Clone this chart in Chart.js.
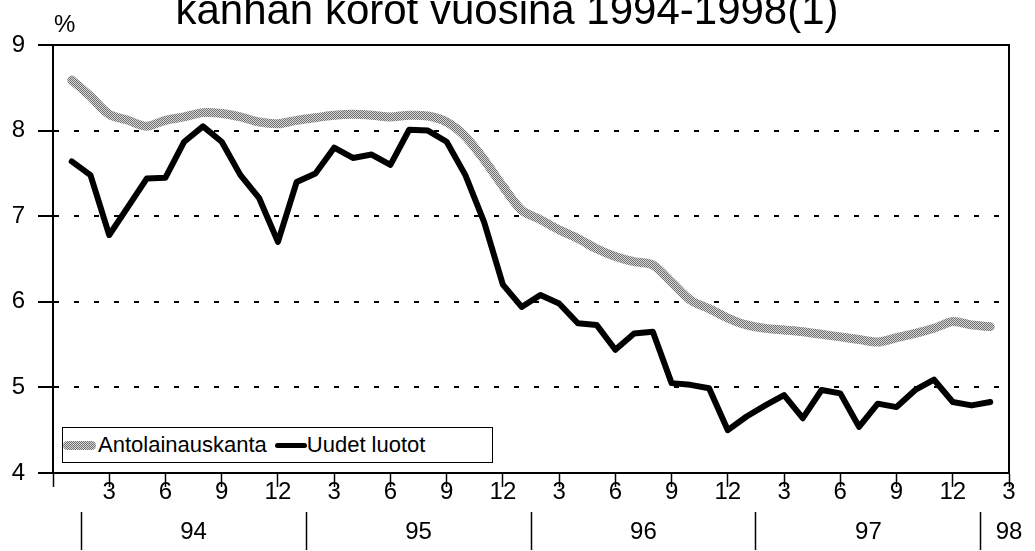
<!DOCTYPE html>
<html lang="fi">
<head>
<meta charset="utf-8">
<title>Kanhan korot vuosina 1994-1998</title>
<script src="https://cdn.jsdelivr.net/npm/chart.js@4.4.1/dist/chart.umd.min.js"></script>
<style>
  html, body { margin: 0; padding: 0; background: #fff; }
  body {
    width: 1035px; height: 551px; overflow: hidden; position: relative;
    font-family: 'Liberation Sans', Arial, sans-serif; color: #000;
  }
  #chart { position: absolute; left: 0; top: 0; }
  .title {
    position: absolute; left: 0; top: -11px; width: 1014px;
    text-align: center; font-size: 42px; line-height: 1; white-space: nowrap;
  }
  .unit { position: absolute; left: 54px; top: 12px; font-size: 24px; line-height: 1; }
  .legend {
    position: absolute; left: 62px; top: 427px; width: 431px; height: 36px;
    box-sizing: border-box; border: 1.5px solid #000; background: #fff;
    display: flex; align-items: center; font-size: 22px; line-height: 1; white-space: nowrap;
  }
  .legend .swatch { display: inline-block; border-radius: 5px; }
</style>
</head>
<body>
<canvas id="chart" width="1035" height="551"></canvas>
<div class="title">kanhan korot vuosina 1994-1998(1)</div>
<div class="unit">%</div>
<div class="legend" id="legend"></div>

<script>
// kuukausittaiset havainnot 1/1994 - 2/1998 (x = kuukausia joulukuusta 1993)
const antolainauskanta = [
    8.59, 8.40, 8.19, 8.12, 8.05, 8.12, 8.16, 8.21, 8.20, 8.16, 8.10, 8.08,
    8.12, 8.15, 8.18, 8.19, 8.18, 8.16, 8.18, 8.17, 8.10, 7.93, 7.66, 7.35,
    7.07, 6.96, 6.84, 6.74, 6.62, 6.53, 6.47, 6.43, 6.23, 6.02, 5.92, 5.81,
    5.73, 5.69, 5.67, 5.65, 5.62, 5.59, 5.56, 5.53, 5.58, 5.63, 5.69, 5.77,
    5.73, 5.71
];
const uudetLuotot = [
    7.64, 7.48, 6.78, 7.11, 7.44, 7.45, 7.87, 8.05, 7.87, 7.48, 7.21, 6.70,
    7.40, 7.50, 7.80, 7.68, 7.72, 7.60, 8.01, 8.00, 7.87, 7.48, 6.93, 6.20,
    5.94, 6.08, 5.98, 5.75, 5.73, 5.44, 5.63, 5.65, 5.05, 5.03, 4.99, 4.50,
    4.66, 4.79, 4.91, 4.64, 4.97, 4.93, 4.54, 4.81, 4.77, 4.97, 5.09, 4.83,
    4.79, 4.83
];
const seriesNames = ['Antolainauskanta', 'Uudet luotot'];

// akselit
const yTicks = [4, 5, 6, 7, 8, 9];
const yearLabels = ['94', '95', '96', '97', '98'];
const yearCenters = [7.5, 19.5, 31.5, 43.5, 51];
const yearSeparators = [1.5, 13.5, 25.5, 37.5, 49.5];

// harmaa rasteri kuten alkuperäisessä
function makeStipple() {
    const c = document.createElement('canvas');
    c.width = 2;
    c.height = 2;
    const g = c.getContext('2d');
    g.fillStyle = '#d6d6d6';
    g.fillRect(0, 0, 2, 2);
    g.fillStyle = '#707070';
    g.fillRect(0, 0, 1, 1);
    g.fillRect(1, 1, 1, 1);
    return c;
}

const tile = makeStipple();
const canvas = document.getElementById('chart');
const stipple = canvas.getContext('2d').createPattern(tile, 'repeat');

const toPoints = arr => arr.map((v, i) => ({ x: i + 1, y: v }));
const tickFont = { family: "'Liberation Sans', Arial, sans-serif", size: 24 };

const chart = new Chart(canvas, {
    type: 'line',
    data: {
        datasets: [{
            label: seriesNames[0],
            data: toPoints(antolainauskanta),
            borderColor: stipple,
            backgroundColor: stipple,
            borderWidth: 9,
            tension: 0.3,
            pointRadius: 0,
            borderCapStyle: 'round',
            borderJoinStyle: 'round',
            xAxisID: 'x',
            yAxisID: 'y'
        }, {
            label: seriesNames[1],
            data: toPoints(uudetLuotot),
            borderColor: '#000',
            backgroundColor: '#000',
            borderWidth: 6,
            tension: 0,
            pointRadius: 0,
            borderCapStyle: 'round',
            borderJoinStyle: 'round',
            xAxisID: 'x',
            yAxisID: 'y'
        }]
    },
    options: {
        responsive: false,
        animation: false,
        layout: { padding: { top: 45, right: 26, left: 0, bottom: 0 } },
        plugins: {
            legend: { display: false },
            tooltip: { enabled: false }
        },
        scales: {
            x: {
                type: 'linear',
                position: 'bottom',
                weight: 0,
                min: 0,
                max: 51,
                afterFit: s => { s.height = 39; },
                ticks: {
                    stepSize: 3,
                    autoSkip: false,
                    maxRotation: 0,
                    minRotation: 0,
                    color: '#000',
                    font: tickFont,
                    padding: -9,
                    callback: v => v === 0 ? '' : String((v - 1) % 12 + 1)
                },
                grid: {
                    drawOnChartArea: false,
                    tickLength: 14,
                    tickColor: '#000',
                    tickWidth: 1.5
                },
                border: { display: true, color: '#000', width: 2 }
            },
            xYear: {
                type: 'linear',
                position: 'bottom',
                weight: 1,
                min: 0,
                max: 51,
                afterBuildTicks: s => {
                    s.ticks = yearSeparators.concat(yearCenters)
                        .sort((a, b) => a - b)
                        .map(v => ({ value: v }));
                },
                afterFit: s => { s.height = 39; },
                ticks: {
                    autoSkip: false,
                    maxRotation: 0,
                    minRotation: 0,
                    color: '#000',
                    font: tickFont,
                    padding: -32,
                    callback: v => {
                        const i = yearCenters.indexOf(v);
                        return i >= 0 ? yearLabels[i] : '';
                    }
                },
                grid: {
                    drawOnChartArea: false,
                    tickLength: 38,
                    tickWidth: 1.5,
                    tickColor: ctx => (ctx.tick && yearSeparators.includes(ctx.tick.value)) ? '#000' : 'rgba(0,0,0,0)'
                },
                border: { display: false }
            },
            y: {
                min: 4,
                max: 9,
                afterBuildTicks: s => { s.ticks = yTicks.map(v => ({ value: v })); },
                afterFit: s => { s.width = 53; },
                ticks: { color: '#000', font: tickFont, padding: 13 },
                grid: {
                    color: '#000',
                    lineWidth: 2,
                    tickLength: 15,
                    tickColor: '#000',
                    tickWidth: 2
                },
                border: {
                    display: true,
                    color: '#000',
                    width: 2,
                    dash: ctx => (ctx.tick && ctx.tick.value > 4 && ctx.tick.value < 9) ? [5, 15] : []
                }
            },
            yRight: {
                position: 'right',
                min: 4,
                max: 9,
                afterFit: s => { s.width = 0; },
                ticks: { display: false },
                grid: { display: false },
                border: { display: true, color: '#000', width: 2 }
            }
        }
    }
});

// selite kaavion sisään, kehyksen kanssa
const legendEl = document.getElementById('legend');
const swatchSizes = [
    { w: 33, h: 9, gapBefore: 0 },
    { w: 32, h: 5, gapBefore: 8 }
];
chart.data.datasets.forEach((ds, i) => {
    const sw = document.createElement('span');
    sw.className = 'swatch';
    sw.style.width = swatchSizes[i].w + 'px';
    sw.style.height = swatchSizes[i].h + 'px';
    sw.style.marginLeft = swatchSizes[i].gapBefore + 'px';
    if (i === 0) {
        sw.style.backgroundImage = 'url(' + tile.toDataURL() + ')';
    } else {
        sw.style.background = ds.borderColor;
    }
    const txt = document.createElement('span');
    txt.textContent = ds.label;
    txt.style.marginLeft = i === 0 ? '2px' : '0';
    legendEl.appendChild(sw);
    legendEl.appendChild(txt);
});
</script>
</body>
</html>
